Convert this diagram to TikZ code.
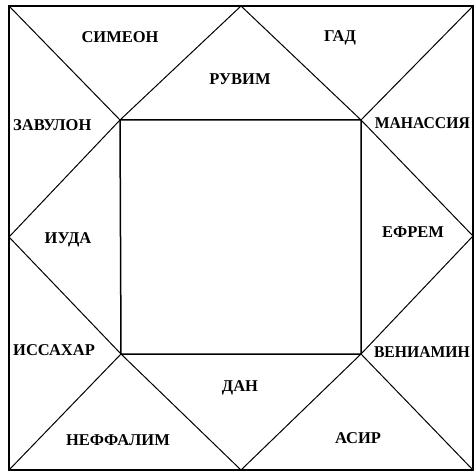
\documentclass[tikz,border=0pt]{standalone}
\usepackage{fontspec}
\setmainfont{Liberation Serif}
\usepackage{tikz}

\begin{document}
\begin{tikzpicture}[x=1pt,y=-1pt,
  tribe/.style={font=\fontsize{16.5}{18}\selectfont\bfseries,inner sep=0pt}]
  \useasboundingbox (0,0) rectangle (476,473);
  % outer square and its midpoints
  \coordinate (otl) at (9,6);    \coordinate (otr) at (473,6);
  \coordinate (obl) at (9,470);  \coordinate (obr) at (473,470);
  \coordinate (mt) at (241,6);   \coordinate (mb) at (241,470);
  \coordinate (ml) at (9,237);   \coordinate (mr) at (473,236);
  % inner square
  \coordinate (itl) at (120,120); \coordinate (itr) at (361,120);
  \coordinate (ibl) at (121,354); \coordinate (ibr) at (361,354);
  \draw[line width=1.5pt] (itl) -- (itr) -- (ibr) -- (ibl) -- cycle;
  \draw[line width=1pt] (otl) -- (itl) -- (mt) -- (itr) -- (otr);
  \draw[line width=1pt] (itr) -- (mr) -- (ibr) -- (obr);
  \draw[line width=1pt] (ibr) -- (mb) -- (ibl) -- (obl);
  \draw[line width=1pt] (ibl) -- (ml) -- (itl);
  \node[tribe] (simeon) at (120,37) {СИМЕОН};
  \node[tribe] (gad) at (340,38) {ГАД};
  \node[tribe] (ruvim) at (240,79) {РУВИМ};
  \node[tribe,anchor=west] (zavulon) at (13,125) {ЗАВУЛОН};
  \node[tribe,anchor=east,xscale=0.95] (manassiya) at (470,123) {МАНАССИЯ};
  \node[tribe] (iuda) at (68,240) {ИУДА};
  \node[tribe] (efrem) at (413,232) {ЕФРЕМ};
  \node[tribe,anchor=west] (issakhar) at (13,350) {ИССАХАР};
  \node[tribe,anchor=east,xscale=0.95] (veniamin) at (470,352) {ВЕНИАМИН};
  \node[tribe] (dan) at (240,388) {ДАН};
  \node[tribe] (neffalim) at (118,440) {НЕФФАЛИМ};
  \node[tribe] (asir) at (358,438) {АСИР};
  \draw[line width=1.8pt] (otl) rectangle (obr);
\end{tikzpicture}
\end{document}
